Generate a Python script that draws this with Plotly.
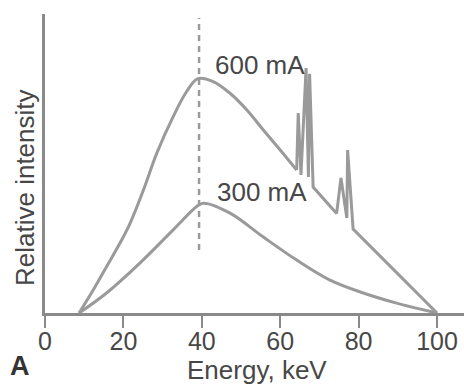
import plotly.graph_objects as go

# ---- data (Energy keV, relative intensity 0-100) ----
e600_smooth = [8.7, 12.3, 15.7, 19.1, 21.7, 25.1, 28.5, 32.7, 36.1, 39.0, 42.9, 47.2, 51.5, 55.7, 60.0, 64.2]
i600_smooth = [0.0, 7.7, 15.5, 23.3, 30.0, 41.1, 53.4, 65.7, 74.0, 78.4, 77.4, 73.5, 67.9, 61.2, 54.5, 47.8]
e600_lines = [64.2, 64.6, 65.3, 66.6, 67.2, 67.5, 68.4, 74.4, 75.5, 77.0, 77.2, 78.6, 100.0]
i600_lines = [47.8, 66.9, 46.2, 81.9, 45.5, 80.0, 42.1, 33.3, 45.2, 31.8, 54.5, 28.1, 0.0]
e300 = [8.7, 15.7, 24.2, 32.7, 38.7, 40.4, 47.2, 55.6, 64.2, 72.7, 81.2, 89.7, 100.0]
i300 = [0.0, 6.7, 16.7, 27.8, 35.6, 36.7, 33.4, 25.5, 17.7, 11.0, 6.7, 3.3, 0.0]
peak_energy = 39.3
peak_line_y = [21.1, 98.7]
x_ticks = [0, 20, 40, 60, 80, 100]
labels = ["600 mA", "300 mA"]
label_pos = [(42.9, 82.9), (43.4, 40.5)]

CURVE = "#9a9a9a"
AXIS = "#8a8a8a"
TEXT = "#474747"
FONT = "Liberation Sans, Arial, sans-serif"

fig = go.Figure()
fig.add_trace(go.Scatter(x=[peak_energy, peak_energy], y=peak_line_y, mode="lines",
                         line=dict(color=CURVE, width=2.5, dash="6px,5px"), hoverinfo="skip"))
fig.add_trace(go.Scatter(x=e300, y=i300, mode="lines", line=dict(color=CURVE, width=3, shape="spline", smoothing=1)))
fig.add_trace(go.Scatter(x=e600_smooth, y=i600_smooth, mode="lines", line=dict(color=CURVE, width=3, shape="spline", smoothing=1)))
fig.add_trace(go.Scatter(x=e600_lines, y=i600_lines, mode="lines", line=dict(color=CURVE, width=3)))

for txt, (lx, ly) in zip(labels, label_pos):
    fig.add_annotation(x=lx, y=ly, text=txt, showarrow=False, xanchor="left", yanchor="middle",
                       font=dict(family=FONT, size=26, color=TEXT))

W0, W1, H0, H1 = 45, 464, 14, 313
def px(xp):
    return (xp - W0) / (W1 - W0)
def py(yp):
    return (H1 - yp) / (H1 - H0)

fig.add_annotation(xref="paper", yref="paper", x=px(257), y=py(370), text="Energy, keV", showarrow=False,
                   xanchor="center", yanchor="middle", font=dict(family=FONT, size=26, color=TEXT))
fig.add_annotation(xref="paper", yref="paper", x=px(25), y=py(188), text="Relative intensity", showarrow=False,
                   textangle=-90, xanchor="center", yanchor="middle", font=dict(family=FONT, size=26, color=TEXT))
fig.add_annotation(xref="paper", yref="paper", x=px(20), y=py(366), text="<b>A</b>", showarrow=False,
                   xanchor="center", yanchor="middle", font=dict(family=FONT, size=27, color="#333333"))

fig.update_layout(
    width=464, height=389,
    margin=dict(l=W0, r=0, t=H0, b=389 - H1, pad=0),
    paper_bgcolor="white", plot_bgcolor="white",
    showlegend=False,
    xaxis=dict(range=[0, (W1 - W0) / 3.92], showgrid=False, zeroline=False, showline=True,
               linecolor=AXIS, linewidth=3, ticks="outside", ticklen=12, tickwidth=2, tickcolor=AXIS,
               tickvals=x_ticks, ticktext=[str(t) for t in x_ticks], ticklabelstandoff=-8,
               tickfont=dict(family=FONT, size=25, color=TEXT), fixedrange=True),
    yaxis=dict(range=[0, 100], showgrid=False, zeroline=False, showline=True, linecolor=AXIS, linewidth=3,
               showticklabels=False, ticks="", fixedrange=True),
)
fig.write_html("out.html", config={"displayModeBar": False},
               post_script="document.body.style.margin='0';document.body.style.overflow='hidden';")
